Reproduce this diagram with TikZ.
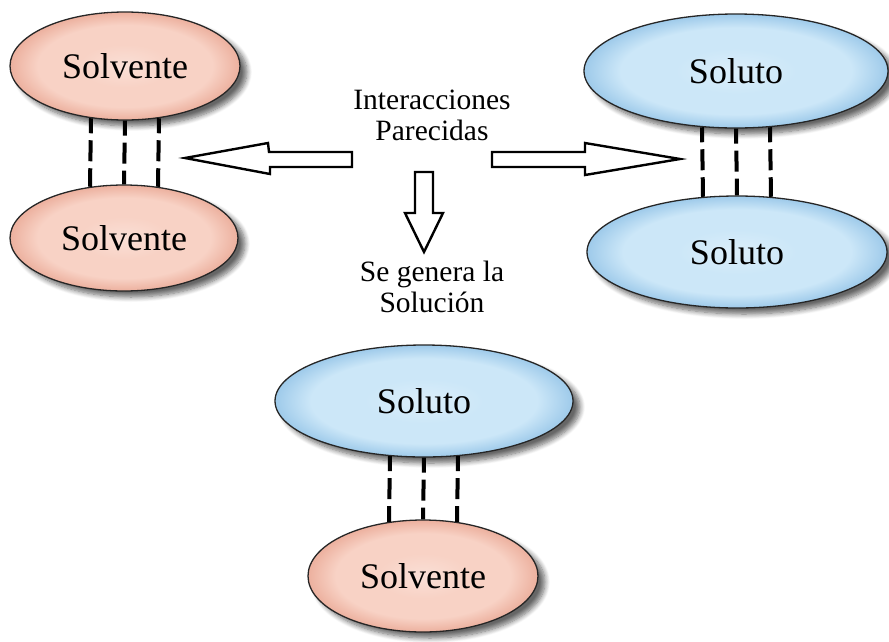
\documentclass[tikz,border=0pt]{standalone}
\usepackage{fontspec}
\setmainfont{Liberation Serif}
\usetikzlibrary{shapes.geometric,shadows.blur}
\definecolor{solvout}{RGB}{236,176,158}
\definecolor{solvin}{RGB}{248,210,197}
\definecolor{soluout}{RGB}{158,202,234}
\definecolor{soluin}{RGB}{204,231,248}
\pgfdeclareradialshading{solvsh}{\pgfpoint{0bp}{0bp}}{color(0bp)=(solvin!70!white); color(10bp)=(solvin); color(19bp)=(solvin); color(25bp)=(solvout); color(50bp)=(solvout)}
\pgfdeclareradialshading{solush}{\pgfpoint{0bp}{0bp}}{color(0bp)=(soluin!70!white); color(10bp)=(soluin); color(19bp)=(soluin); color(25bp)=(soluout); color(50bp)=(soluout)}
\begin{document}
\begin{tikzpicture}[x=1pt,y=-1pt,
  blob/.style={ellipse, draw=black!85, line width=1.3pt, inner sep=0pt,
    font=\fontsize{36}{40}\selectfont,
    blur shadow={shadow xshift=7pt, shadow yshift=-6pt, shadow blur steps=8, shadow blur radius=5pt, shadow opacity=60}},
  solv/.style={blob, shading=solvsh},
  solu/.style={blob, shading=solush},
  bond/.style={line width=4pt, dash pattern=on 21pt off 7pt, dash phase=6pt},
  blockarrow/.style={draw=black, line width=2.4pt, fill=white, line join=miter},
  caption/.style={align=center, font=\fontsize{29.5}{31}\selectfont}
]
\useasboundingbox (0,0) rectangle (889,641);

\node[solv, minimum width=230pt, minimum height=108pt] (tl) at (125,66) {Solvente};
\node[solv, minimum width=228pt, minimum height=106pt] (bl) at (124,238) {Solvente};
\node[solu, minimum width=304pt, minimum height=114pt] (tr) at (736,71) {Soluto};
\node[solu, minimum width=300pt, minimum height=112pt] (br) at (737,252) {Soluto};
\node[solu, minimum width=298pt, minimum height=112pt] (ms) at (424,401) {Soluto};
\node[solv, minimum width=230pt, minimum height=112pt] (ml) at (423,576) {Solvente};

\node[caption] (int) at (432,115) {Interacciones\\Parecidas};
\node[caption] (gen) at (432,287) {Se genera la\\Solución};

\foreach \d/\s in {-34/2.4,0/0,34/2.4}{
  \draw[bond] ([xshift=\d pt,yshift=\s pt]tl.south) -- ([xshift=\d pt,yshift=-\s pt]bl.north);
}
\foreach \d/\s in {-34/1.4,0/0,34/1.4}{
  \draw[bond] ([xshift=\d pt,yshift=\s pt]tr.south) -- ([xshift=\d pt,yshift=-\s pt]br.north);
}
\foreach \d/\s/\t in {-34/1.5/2.5,0/0/0,34/1.5/2.5}{
  \draw[bond] ([xshift=\d pt,yshift=\s pt]ms.south) -- ([xshift=\d pt,yshift=-\t pt]ml.north);
}

% hollow block arrows
\draw[blockarrow] (185,158) -- (268,143) -- (269,152) -- (352,152) -- (352,167) -- (270,167) -- (270,174) -- cycle;
\draw[blockarrow] (680,159) -- (585,143) -- (585,152) -- (492,152) -- (492,167) -- (585,167) -- (585,175) -- cycle;
\draw[blockarrow] (424,252) -- (405,213) -- (415,213) -- (415,172) -- (433,172) -- (433,213) -- (443,213) -- cycle;
\end{tikzpicture}
\end{document}
